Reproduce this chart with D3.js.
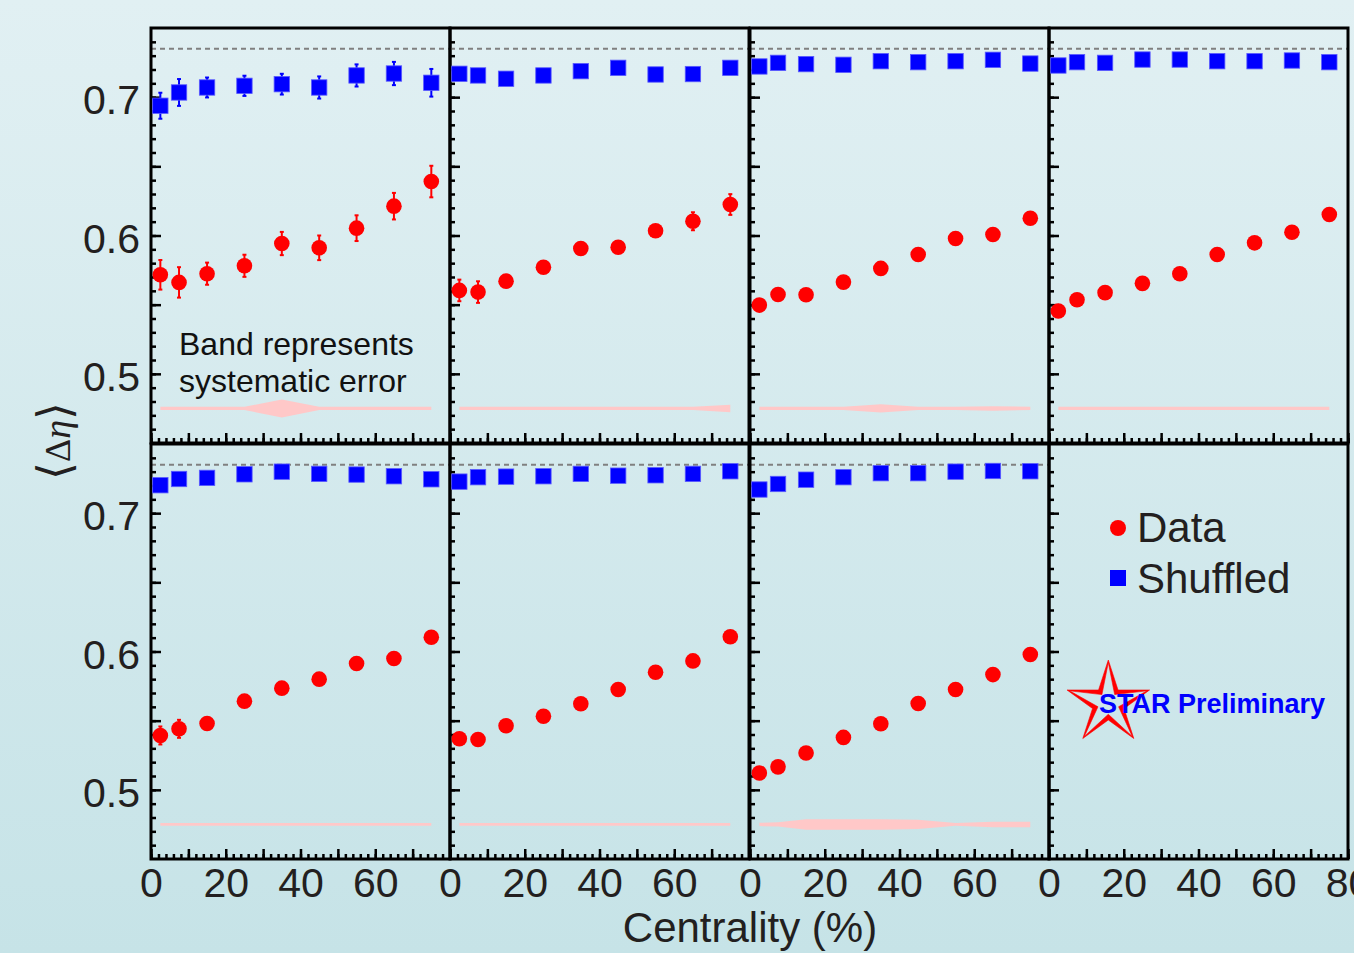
<!DOCTYPE html>
<meta charset="utf-8">
<script src="https://d3js.org/d3.v7.min.js"></script>
<style>
body { margin: 0; }
text { font-family: "Liberation Sans", Arial, Helvetica, sans-serif; fill: #231f20; }
</style>
<body>
<script>

// centrality bin centres (%)
var centrality = [2.5, 7.5, 15, 25, 35, 45, 55, 65, 75];

// <delta eta> of real events, one row per panel
var dataVals = [
  [0.5716, 0.5661, 0.5724, 0.5781, 0.5942, 0.5911, 0.6053, 0.6212, 0.6390],
  [0.5603, 0.5591, 0.5670, 0.5771, 0.5906, 0.5915, 0.6034, 0.6103, 0.6224],
  [0.5497, 0.5574, 0.5572, 0.5663, 0.5762, 0.5863, 0.5978, 0.6007, 0.6125],
  [0.5454, 0.5536, 0.5587, 0.5654, 0.5724, 0.5863, 0.5947, 0.6024, 0.6152],
  [0.5393, 0.5441, 0.5480, 0.5641, 0.5735, 0.5800, 0.5913, 0.5949, 0.6103],
  [0.5369, 0.5364, 0.5463, 0.5532, 0.5622, 0.5725, 0.5850, 0.5932, 0.6107],
  [0.5122, 0.5166, 0.5266, 0.5379, 0.5478, 0.5624, 0.5725, 0.5833, 0.5978]
];
var dataErr = [
  [0.0107, 0.0110, 0.0080, 0.0080, 0.0084, 0.0089, 0.0093, 0.0096, 0.0114],
  [0.0078, 0.0078, 0.0030, 0.0030, 0.0030, 0.0030, 0.0030, 0.0065, 0.0075],
  [0.003, 0.003, 0.003, 0.003, 0.003, 0.003, 0.003, 0.003, 0.003],
  [0.003, 0.003, 0.003, 0.003, 0.003, 0.003, 0.003, 0.003, 0.003],
  [0.0065, 0.0065, 0.003, 0.003, 0.003, 0.003, 0.003, 0.003, 0.003],
  [0.003, 0.003, 0.003, 0.003, 0.003, 0.003, 0.003, 0.003, 0.003],
  [0.003, 0.003, 0.003, 0.003, 0.003, 0.003, 0.003, 0.003, 0.003]
];

// <delta eta> of shuffled events
var shufVals = [
  [0.6938, 0.7034, 0.7070, 0.7082, 0.7094, 0.7070, 0.7157, 0.7171, 0.7104],
  [0.7169, 0.7157, 0.7133, 0.7157, 0.7188, 0.7212, 0.7164, 0.7167, 0.7212],
  [0.7222, 0.7248, 0.7239, 0.7234, 0.7260, 0.7253, 0.7260, 0.7270, 0.7243],
  [0.7229, 0.7253, 0.7248, 0.7272, 0.7272, 0.7260, 0.7260, 0.7265, 0.7253],
  [0.7202, 0.7247, 0.7255, 0.7281, 0.7300, 0.7284, 0.7279, 0.7267, 0.7245],
  [0.7228, 0.7260, 0.7264, 0.7267, 0.7284, 0.7271, 0.7274, 0.7284, 0.7303],
  [0.7171, 0.7211, 0.7242, 0.7260, 0.7289, 0.7289, 0.7300, 0.7305, 0.7303]
];
var shufErr = [
  [0.0094, 0.0097, 0.0072, 0.0073, 0.0075, 0.0080, 0.0080, 0.0084, 0.0100],
  [0.003, 0.003, 0.003, 0.003, 0.003, 0.003, 0.003, 0.003, 0.003],
  [0.003, 0.003, 0.003, 0.003, 0.003, 0.003, 0.003, 0.003, 0.003],
  [0.003, 0.003, 0.003, 0.003, 0.003, 0.003, 0.003, 0.003, 0.003],
  [0.003, 0.003, 0.003, 0.003, 0.003, 0.003, 0.003, 0.003, 0.003],
  [0.003, 0.003, 0.003, 0.003, 0.003, 0.003, 0.003, 0.003, 0.003],
  [0.003, 0.003, 0.003, 0.003, 0.003, 0.003, 0.003, 0.003, 0.003]
];

// systematic error, drawn as a band around a fixed level
var sysErr = [
  [0.0012, 0.0012, 0.0012, 0.0012, 0.0065, 0.0012, 0.0012, 0.0012, 0.0012],
  [0.0012, 0.0012, 0.0012, 0.0012, 0.0012, 0.0012, 0.0012, 0.0012, 0.0027],
  [0.0012, 0.0012, 0.0012, 0.0012, 0.0030, 0.0012, 0.0012, 0.0016, 0.0012],
  [0.0012, 0.0012, 0.0012, 0.0012, 0.0012, 0.0012, 0.0012, 0.0012, 0.0012],
  [0.0010, 0.0010, 0.0010, 0.0010, 0.0010, 0.0010, 0.0010, 0.0010, 0.0010],
  [0.0010, 0.0010, 0.0010, 0.0010, 0.0010, 0.0010, 0.0010, 0.0010, 0.0010],
  [0.0012, 0.0015, 0.0038, 0.0038, 0.0038, 0.0034, 0.0010, 0.0020, 0.0020]
];
var bandLevel = 0.475;
var refLevel = 0.735;

var xLabels = [0, 20, 40, 60];
var xLabelsLast = [0, 20, 40, 60, 80];
var yLabels = [0.5, 0.6, 0.7];
var legendLabels = ["Data", "Shuffled"];

var W = 1354, H = 953;
var colX = [151, 450, 750, 1049], rowY = [28, 444];
var pw = 299, ph = 415;

var svg = d3.select("body").append("svg")
    .attr("width", W)
    .attr("height", H);

var grad = svg.append("defs").append("linearGradient")
    .attr("id", "bg").attr("x1", 0).attr("y1", 0).attr("x2", 0).attr("y2", 1);
grad.append("stop").attr("offset", "0%").attr("stop-color", "#e1f0f3");
grad.append("stop").attr("offset", "100%").attr("stop-color", "#c6e3e7");
svg.append("rect").attr("width", W).attr("height", H).attr("fill", "url(#bg)");

var x = d3.scaleLinear().domain([0, 80]).range([0, pw]);
var y = d3.scaleLinear().domain([0.45, 0.75]).range([ph, 0]);

var band = d3.area()
    .x(function(d) { return x(d.c); })
    .y0(function(d) { return y(bandLevel - d.e); })
    .y1(function(d) { return y(bandLevel + d.e); });

function tickAxis(g, axis) {
  g.call(axis);
  g.select(".domain").remove();
  g.selectAll(".tick line").attr("stroke", "#000").attr("stroke-width", 2.5);
}

function errBars(g, vals, errs, color) {
  var eb = g.append("g").attr("stroke", color).attr("stroke-width", 2);
  centrality.forEach(function(c, i) {
    var y0 = y(vals[i] - errs[i]), y1 = y(vals[i] + errs[i]);
    eb.append("line").attr("x1", x(c)).attr("x2", x(c)).attr("y1", y0).attr("y2", y1);
    eb.append("line").attr("x1", x(c) - 2).attr("x2", x(c) + 2).attr("y1", y0).attr("y2", y0);
    eb.append("line").attr("x1", x(c) - 2).attr("x2", x(c) + 2).attr("y1", y1).attr("y2", y1);
  });
}

for (var p = 0; p < 8; p++) {
  var g = svg.append("g")
      .attr("transform", "translate(" + colX[p % 4] + "," + rowY[Math.floor(p / 4)] + ")");

  if (p < 7) {
    // systematic band
    g.append("path")
        .datum(centrality.map(function(c, i) { return {c: c, e: sysErr[p][i]}; }))
        .attr("d", band)
        .attr("fill", "#ffc8c8");

    // reference dashed line
    g.append("line")
        .attr("x1", 0).attr("x2", pw)
        .attr("y1", y(refLevel)).attr("y2", y(refLevel))
        .attr("stroke", "#808080").attr("stroke-width", 2)
        .attr("stroke-dasharray", "5,4");
  }

  // ticks, pointing inward
  tickAxis(g.append("g").attr("transform", "translate(0," + ph + ")"),
      d3.axisBottom(x).tickValues(d3.range(0, 81, 2)).tickSize(-5).tickFormat(""));
  tickAxis(g.append("g").attr("transform", "translate(0," + ph + ")"),
      d3.axisBottom(x).tickValues(d3.range(0, 81, 10)).tickSize(-10).tickFormat(""));
  tickAxis(g.append("g"),
      d3.axisLeft(y).tickValues(d3.range(46, 75).map(function(v) { return v / 100; })).tickSize(-5).tickFormat(""));
  tickAxis(g.append("g"),
      d3.axisLeft(y).tickValues([0.5, 0.55, 0.6, 0.65, 0.7]).tickSize(-10).tickFormat(""));

  // tick labels
  if (p >= 4) {
    var xl = g.append("g").attr("transform", "translate(0," + ph + ")")
        .call(d3.axisBottom(x).tickValues(p == 7 ? xLabelsLast : xLabels).tickSize(0).tickPadding(9));
    xl.select(".domain").remove();
    xl.attr("font-size", null).attr("font-family", null);
    xl.selectAll("text").style("font-size", "41px");
  }
  if (p % 4 == 0) {
    var yl = g.append("g")
        .call(d3.axisLeft(y).tickValues(yLabels).tickSize(0).tickPadding(11).tickFormat(d3.format(".1f")));
    yl.select(".domain").remove();
    yl.attr("font-size", null).attr("font-family", null);
    yl.selectAll("text").style("font-size", "41px").attr("dy", "0.41em");
  }

  g.append("rect")
      .attr("width", pw).attr("height", ph)
      .attr("fill", "none").attr("stroke", "#000").attr("stroke-width", 3);

  if (p < 7) {
    errBars(g, shufVals[p], shufErr[p], "#0000ff");
    errBars(g, dataVals[p], dataErr[p], "#ff0000");

    g.append("g").selectAll("rect")
        .data(shufVals[p])
        .enter().append("rect")
        .attr("x", function(d, i) { return x(centrality[i]) - 7.7; })
        .attr("y", function(d) { return y(d) - 7.7; })
        .attr("width", 15.4).attr("height", 15.4)
        .attr("fill", "#0000ff").attr("stroke", "#5a5aff").attr("stroke-width", 0.8);

    g.append("g").selectAll("circle")
        .data(dataVals[p])
        .enter().append("circle")
        .attr("cx", function(d, i) { return x(centrality[i]); })
        .attr("cy", function(d) { return y(d); })
        .attr("r", 7.8)
        .attr("fill", "#ff0000");
  }

  if (p == 0) {
    g.append("text").attr("x", 28).attr("y", 327).style("font-size", "32px").style("fill", "#111")
        .text("Band represents");
    g.append("text").attr("x", 28).attr("y", 364).style("font-size", "32px").style("fill", "#111")
        .text("systematic error");
  }

  if (p == 7) {
    // legend
    g.append("circle").attr("cx", 69).attr("cy", 84).attr("r", 8).attr("fill", "#ff0000");
    g.append("rect").attr("x", 61).attr("y", 126).attr("width", 16).attr("height", 16).attr("fill", "#0000ff");
    g.selectAll(".leg").data(legendLabels).enter().append("text")
        .attr("class", "leg")
        .attr("x", 88)
        .attr("y", function(d, i) { return 98 + i * 51; })
        .style("font-size", "42px")
        .text(function(d) { return d; });

    // STAR logo
    var cx = 59.3, cy = 259.4, R = 43.4;
    function star(ro, ri) {
      return d3.range(10).map(function(k) {
        var a = -Math.PI / 2 + k * Math.PI / 5, r = k % 2 ? ri : ro;
        return [cx + r * Math.cos(a), cy + r * Math.sin(a)];
      });
    }
    var line = d3.line().curve(d3.curveLinearClosed);
    g.append("path")
        .attr("d", line(star(R, R * 0.382)) + line(star(R * 0.94, R * 0.25)))
        .attr("fill", "#ff0000").attr("fill-rule", "evenodd")
        .attr("stroke", "#ff0000").attr("stroke-width", 0.6);
    g.append("text").attr("x", 50).attr("y", 269)
        .style("font-size", "27px").style("font-weight", "bold").style("fill", "#0000ff")
        .text("STAR Preliminary");
  }
}

// axis titles
svg.append("text")
    .attr("x", 750).attr("y", 942)
    .attr("text-anchor", "middle")
    .style("font-size", "42px")
    .text("Centrality (%)");

var yt = svg.append("text")
    .attr("transform", "translate(70,441) rotate(-90)")
    .attr("text-anchor", "middle");
yt.append("tspan").style("font-family", "'DejaVu Sans'").style("font-size", "46px").style("font-weight", "200").text("\u27E8");
yt.append("tspan").style("font-family", "'Liberation Serif'").style("font-size", "36px").text("\u0394");
yt.append("tspan").style("font-family", "'Liberation Serif'").style("font-size", "38px").style("font-style", "italic").text("\u03B7");
yt.append("tspan").style("font-family", "'DejaVu Sans'").style("font-size", "46px").style("font-weight", "200").text("\u27E9");

</script>
</body>
